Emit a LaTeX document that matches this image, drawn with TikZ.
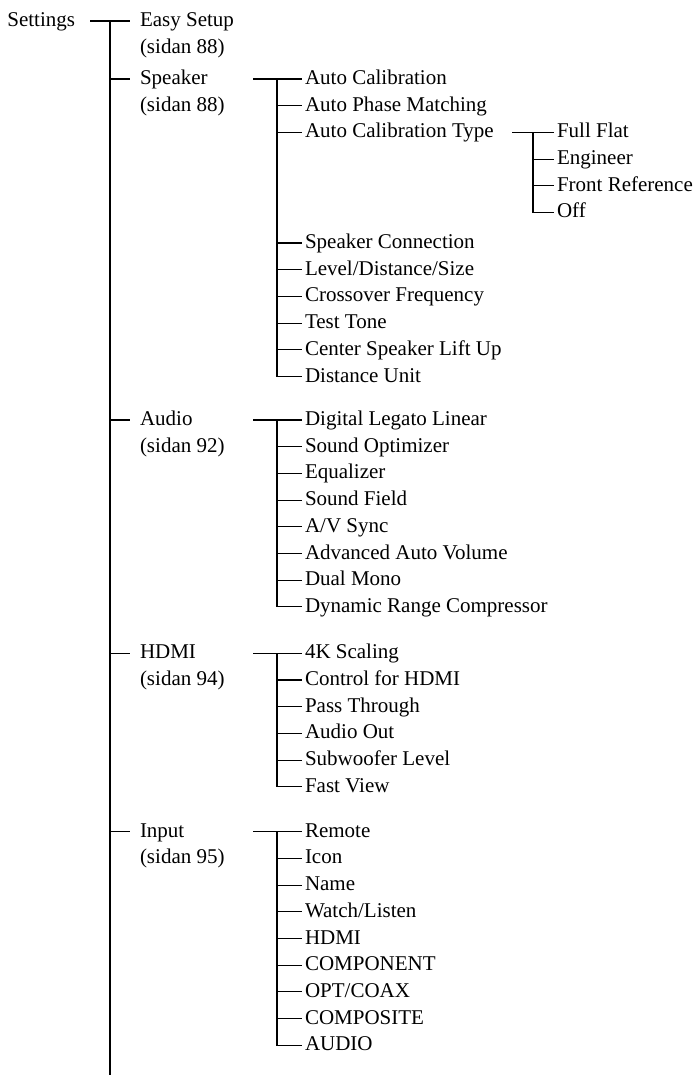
\documentclass[tikz,border=0pt]{standalone}
\usepackage{fontspec}
\setmainfont{Liberation Serif}
\usepackage{tikz}
\usetikzlibrary{positioning}

\tikzset{
  item/.style={inner xsep=3pt, inner ysep=0pt, outer sep=0pt, text height=16pt, text depth=5pt, minimum height=26.7pt},
  head/.style={item, inner xsep=10pt},
  under/.style={below=0pt of #1.south west, anchor=north west}
}

\begin{document}
\begin{tikzpicture}[every node/.style={font=\fontsize{21}{25}\selectfont}, line width=1.1pt]
\useasboundingbox (0,0) rectangle (699pt,-1075pt);
% top level
\node[head, anchor=west] (easy) at (130pt,-21pt) {Easy Setup};
\node[head, under=easy] (easyp) {(sidan 88)};
\node[item, left=52pt of easy] (set) {Settings};
\node[head, under=easyp, yshift=-4.6pt] (spk) {Speaker};
\node[head, under=spk] (spkp) {(sidan 88)};
\coordinate (trunk) at ([xshift=-20pt]easy.west);
\coordinate (bot) at (0,-1075pt);

% Speaker
\node[item, right=172pt of spk.west] (ac) {Auto Calibration};
\node[item, under=ac] (apm) {Auto Phase Matching};
\node[item, under=apm] (act) {Auto Calibration Type};
\node[item, right=252pt of act.west] (ff) {Full Flat};
\node[item, under=ff] (eng) {Engineer};
\node[item, under=eng] (fref) {Front Reference};
\node[item, under=fref] (off) {Off};
\node[item, under=act, yshift=-83.9pt] (spkcon) {Speaker Connection};
\node[item, under=spkcon] (lds) {Level/Distance/Size};
\node[item, under=lds] (xover) {Crossover Frequency};
\node[item, under=xover] (tone) {Test Tone};
\node[item, under=tone] (lift) {Center Speaker Lift Up};
\node[item, under=lift] (dunit) {Distance Unit};

% Audio
\node[item, under=dunit, yshift=-16.8pt] (dll) {Digital Legato Linear};
\node[head, anchor=west] (audio) at (spk.west |- dll) {Audio};
\node[head, under=audio] (audiop) {(sidan 92)};
\node[item, under=dll] (sopt) {Sound Optimizer};
\node[item, under=sopt] (eq) {Equalizer};
\node[item, under=eq] (sfield) {Sound Field};
\node[item, under=sfield] (avsync) {A/V Sync};
\node[item, under=avsync] (aavol) {Advanced Auto Volume};
\node[item, under=aavol] (dmono) {Dual Mono};
\node[item, under=dmono] (drc) {Dynamic Range Compressor};

% HDMI
\node[item, under=drc, yshift=-19.7pt] (scal) {4K Scaling};
\node[head, anchor=west] (hdmi) at (spk.west |- scal) {HDMI};
\node[head, under=hdmi] (hdmip) {(sidan 94)};
\node[item, under=scal] (ctrl) {Control for HDMI};
\node[item, under=ctrl] (pass) {Pass Through};
\node[item, under=pass] (aout) {Audio Out};
\node[item, under=aout] (sublvl) {Subwoofer Level};
\node[item, under=sublvl] (fview) {Fast View};

% Input
\node[item, under=fview, yshift=-18.2pt] (remote) {Remote};
\node[head, anchor=west] (input) at (spk.west |- remote) {Input};
\node[head, under=input] (inputp) {(sidan 95)};
\node[item, under=remote] (icon) {Icon};
\node[item, under=icon] (name) {Name};
\node[item, under=name] (watch) {Watch/Listen};
\node[item, under=watch] (inhdmi) {HDMI};
\node[item, under=inhdmi] (comp) {COMPONENT};
\node[item, under=comp] (optcoax) {OPT/COAX};
\node[item, under=optcoax] (cvbs) {COMPOSITE};
\node[item, under=cvbs] (ain) {AUDIO};

% connectors
\draw[shorten <=12pt] (set) -- (easy); \draw (trunk) -- (trunk |- bot);
\draw (trunk |- spk) -- (spk); \draw (trunk |- audio) -- (audio);
\draw (trunk |- hdmi) -- (hdmi); \draw (trunk |- input) -- (input);

\coordinate (spkbus) at ([xshift=-25pt]ac.west);
\draw ([xshift=-24pt]spkbus) -- (ac); \draw (spkbus) |- (dunit);
\draw (spkbus |- apm) -- (apm); \draw (spkbus |- act) -- (act); \draw (spkbus |- spkcon) -- (spkcon);
\draw (spkbus |- lds) -- (lds); \draw (spkbus |- xover) -- (xover); \draw (spkbus |- tone) -- (tone);
\draw (spkbus |- lift) -- (lift);

\coordinate (typebus) at ([xshift=-21pt]ff.west);
\draw ([xshift=-21pt]typebus) -- (ff); \draw (typebus) |- (off);
\draw (typebus |- eng) -- (eng); \draw (typebus |- fref) -- (fref);

\coordinate (audiobus) at ([xshift=-25pt]dll.west);
\draw ([xshift=-24pt]audiobus) -- (dll); \draw (audiobus) |- (drc);
\draw (audiobus |- sopt) -- (sopt); \draw (audiobus |- eq) -- (eq); \draw (audiobus |- sfield) -- (sfield);
\draw (audiobus |- avsync) -- (avsync); \draw (audiobus |- aavol) -- (aavol); \draw (audiobus |- dmono) -- (dmono);

\coordinate (hdmibus) at ([xshift=-25pt]scal.west);
\draw ([xshift=-24pt]hdmibus) -- (scal); \draw (hdmibus) |- (fview);
\draw (hdmibus |- ctrl) -- (ctrl); \draw (hdmibus |- pass) -- (pass); \draw (hdmibus |- aout) -- (aout);
\draw (hdmibus |- sublvl) -- (sublvl);

\coordinate (inputbus) at ([xshift=-25pt]remote.west);
\draw ([xshift=-24pt]inputbus) -- (remote); \draw (inputbus) |- (ain);
\draw (inputbus |- icon) -- (icon); \draw (inputbus |- name) -- (name); \draw (inputbus |- watch) -- (watch);
\draw (inputbus |- inhdmi) -- (inhdmi); \draw (inputbus |- comp) -- (comp); \draw (inputbus |- optcoax) -- (optcoax);
\draw (inputbus |- cvbs) -- (cvbs);
\end{tikzpicture}
\end{document}
